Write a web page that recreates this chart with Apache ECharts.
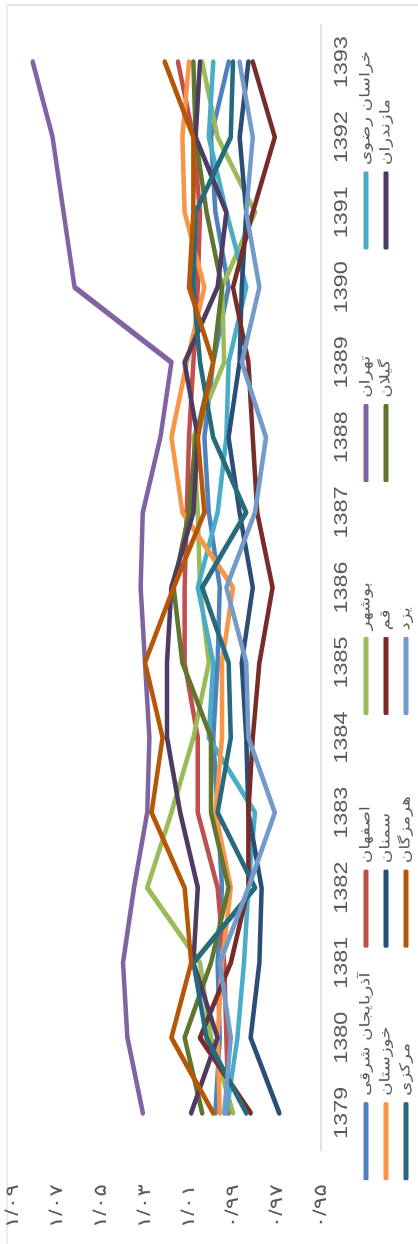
<!DOCTYPE html>
<html>
<head>
<meta charset="utf-8">
<script src="https://cdn.jsdelivr.net/npm/echarts@6/dist/echarts.min.js"></script>
<style>
  html, body { margin: 0; padding: 0; background: #fff; overflow: hidden; }
  body { width: 418px; height: 1244px; position: relative; }
  /* the chart is drawn lying down, then turned and stretched like the source */
  #main {
    position: absolute; left: 0; top: 0;
    width: 957px; height: 418px;
    transform-origin: 0 0;
    transform: translateY(1244px) rotate(-90deg) scaleX(1.3);
  }
</style>
</head>
<body>
<div id="main"></div>
<script>
const years = ['1379', '1380', '1381', '1382', '1383', '1384', '1385', '1386', '1387', '1388', '1389', '1390', '1391', '1392', '1393']

const provinces = ['آذربایجان شرقی', 'اصفهان', 'بوشهر', 'تهران', 'خراسان رضوی',
  'خوزستان', 'سمنان', 'قم', 'گیلان', 'مازندران', 'مرکزی', 'هرمزگان', 'یزد']

const azarbayjanSharghi = [0.998, 0.996, 0.997, 0.995, 0.997, 0.999, 0.997, 0.996, 1.001, 1.003, 0.999, 0.992, 0.998, 1.000, 0.992]
const esfahan = [0.992, 0.993, 0.994, 0.997, 1.006, 1.006, 1.012, 1.012, 1.011, 1.010, 1.008, 1.006, 1.005, 1.008, 1.015]
const bushehr = [0.990, 1.000, 1.005, 1.029, 1.018, 1.008, 1.001, 1.005, 1.006, 1.008, 0.994, 0.995, 0.980, 0.997, 1.004]
const tehran = [1.031, 1.038, 1.040, 1.035, 1.029, 1.028, 1.030, 1.032, 1.031, 1.023, 1.018, 1.062, 1.067, 1.072, 1.081]
const khorasanRazavi = [0.993, 0.988, 0.985, 0.983, 0.980, 1.001, 0.999, 1.006, 0.997, 0.993, 0.992, 0.984, 0.993, 1.001, 0.999]
const khuzestan = [0.996, 0.997, 0.995, 0.991, 0.998, 0.995, 0.995, 0.990, 1.013, 1.018, 1.011, 1.003, 1.012, 1.013, 1.010]
const semnan = [0.969, 0.982, 0.978, 0.977, 0.983, 0.984, 0.986, 0.981, 0.987, 0.992, 0.987, 0.986, 0.984, 0.987, 0.983]
const qom = [0.982, 1.005, 0.991, 0.983, 0.983, 0.981, 0.978, 0.972, 0.979, 0.981, 0.983, 0.990, 0.981, 0.971, 0.981]
const gilan = [1.004, 1.012, 1.000, 0.992, 1.000, 1.000, 1.013, 1.017, 1.010, 1.007, 0.999, 0.995, 1.002, 1.007, 1.008]
const mazandaran = [1.009, 0.997, 1.008, 1.006, 1.014, 1.020, 1.020, 1.018, 1.008, 1.006, 1.012, 0.997, 0.993, 1.007, 1.005]
const markazi = [0.984, 1.002, 1.008, 0.980, 0.997, 0.991, 0.992, 1.004, 0.984, 0.999, 1.005, 1.008, 1.007, 0.991, 0.990]
const hormozgan = [0.999, 1.018, 1.009, 1.012, 1.027, 1.022, 1.030, 1.017, 1.003, 1.006, 0.999, 1.010, 1.008, 1.008, 1.021]
const yazd = [0.994, 0.991, 0.996, 0.983, 0.971, 0.983, 0.984, 0.993, 0.980, 0.975, 0.986, 0.978, 0.984, 0.981, 0.987]

const values = [azarbayjanSharghi, esfahan, bushehr, tehran, khorasanRazavi, khuzestan,
  semnan, qom, gilan, mazandaran, markazi, hormozgan, yazd]

const colors = ['#4F81BD', '#C0504D', '#9BBB59', '#8064A2', '#4BACC6', '#F79646',
  '#2C4D75', '#772C2A', '#5F7530', '#4D3B62', '#276A7C', '#B65708', '#729ACA']

const faDigits = '۰۱۲۳۴۵۶۷۸۹'
function toFa (v) {
  return v.toFixed(2).replace('.', '/').replace(/[0-9]/g, d => faDigits[+d])
}

const chart = echarts.init(document.getElementById('main'), null, { devicePixelRatio: 2 })

// one small vertical legend per column, so every column starts at a fixed place
const legends = []
for (let k = 0; k < 5; k++) {
  legends.push({
    left: 49 + k * 179,
    top: 358,
    orient: 'vertical',
    icon: 'roundRect',
    itemWidth: 60,
    itemHeight: 5,
    itemGap: 4,
    padding: 0,
    selectedMode: false,
    textStyle: {
      color: '#595959',
      fontSize: 14,
      lineHeight: 16,
      fontFamily: "'DejaVu Sans', sans-serif"
    },
    data: [provinces[k], provinces[k + 5], provinces[k + 10]].filter(n => n)
  })
}

const option = {
  animation: false,
  color: colors,
  graphic: [
    { type: 'line', shape: { x1: 0, y1: 7, x2: 953, y2: 7 }, style: { stroke: '#d9d9d9', lineWidth: 1 } },
    { type: 'line', shape: { x1: 953, y1: 7, x2: 953, y2: 418 }, style: { stroke: '#d9d9d9', lineWidth: 1 } }
  ],
  legend: legends,
  grid: {
    left: 72,
    right: 19,
    top: 13,
    bottom: 97
  },
  xAxis: {
    type: 'category',
    data: years,
    boundaryGap: true,
    axisTick: { show: false },
    axisLine: { lineStyle: { color: '#d9d9d9', width: 1.5 } },
    axisLabel: {
      color: '#595959',
      fontSize: 18,
      fontFamily: "'Liberation Sans', Arial, sans-serif",
      margin: 12
    }
  },
  yAxis: {
    type: 'value',
    min: 0.95,
    max: 1.09,
    interval: 0.01,
    splitLine: { show: false },
    axisTick: { show: false },
    axisLine: { show: false },
    axisLabel: {
      color: '#595959',
      fontSize: 18,
      fontFamily: "'Liberation Sans', 'DejaVu Sans', sans-serif",
      margin: 26,
      formatter: function (v) {
        return Math.round(v * 100) % 2 === 1 ? toFa(v) : ''
      }
    }
  },
  series: provinces.map((name, i) => ({
    name: name,
    type: 'line',
    data: values[i],
    showSymbol: false,
    symbol: 'none',
    lineStyle: { width: 4.5, cap: 'round', join: 'round' }
  }))
}

chart.setOption(option)
</script>
</body>
</html>
